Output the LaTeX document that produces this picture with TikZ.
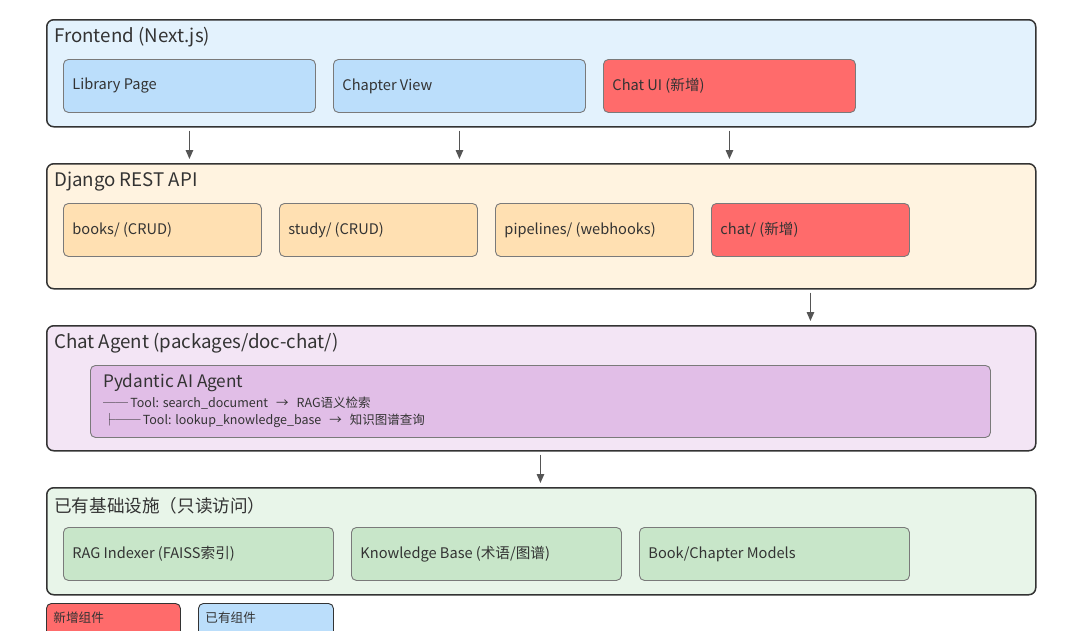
\documentclass[tikz,border=0pt]{standalone}
\usepackage{fontspec}
\setmainfont{Noto Sans CJK SC}
\usetikzlibrary{arrows.meta}
\definecolor{txt}{HTML}{333333}
\definecolor{outerline}{HTML}{333333}
\definecolor{innerline}{HTML}{7A7A7A}
\definecolor{arrowc}{HTML}{555555}
\definecolor{feBg}{HTML}{E3F2FD}
\definecolor{feBox}{HTML}{BBDEFB}
\definecolor{djBg}{HTML}{FFF3E0}
\definecolor{djBox}{HTML}{FFE0B2}
\definecolor{agBg}{HTML}{F3E5F5}
\definecolor{agBox}{HTML}{E1BEE7}
\definecolor{inBg}{HTML}{E8F5E9}
\definecolor{inBox}{HTML}{C8E6C9}
\definecolor{newRed}{HTML}{FF6B6B}
\tikzset{
  layer/.style={draw=outerline, line width=1.5pt, rounded corners=7pt, anchor=north west, inner sep=0pt},
  comp/.style={draw=innerline, line width=0.9pt, rounded corners=5pt, anchor=north west,
    minimum height=53pt, inner sep=0pt, text=txt, font=\fontsize{14.6}{17}\selectfont},
  ltitle/.style={anchor=west, inner sep=0pt, text=txt, font=\fontsize{18.7}{22}\selectfont},
  tooltext/.style={anchor=west, inner sep=0pt, text=txt, font=\fontsize{12.5}{15}\selectfont},
  arr/.style={draw=arrowc, line width=1.2pt, -{Triangle[length=9pt,width=7.5pt]}},
}
\newcommand{\comptext}[2]{\parbox[c][53pt][c]{#1}{\hspace*{9pt}#2}}
\newcommand{\legtext}[2]{\parbox[t][40pt][t]{#1}{\vspace*{8pt}\hspace*{7pt}\fontsize{12.6}{15}\selectfont #2}}
\newcommand{\arrowsep}{\hspace{8pt}→\hspace{8pt}}
\begin{document}
\begin{tikzpicture}[x=1pt,y=-1pt]
\path[use as bounding box] (0,0) rectangle (1080,630);
\fill[white] (0,0) rectangle (1080,630);
\clip (0,0) rectangle (1080,630);

% Frontend layer
\node[layer, fill=feBg, minimum width=989pt, minimum height=107pt] (front) at (46,19) {};
\node[ltitle] (frontT) at (54,37.5) {Frontend (Next.js)};
\node[comp, fill=feBox, minimum width=252pt] (lib) at (63,59) {\comptext{252pt}{Library Page}};
\node[comp, fill=feBox, minimum width=252pt] (chap) at (333,59) {\comptext{252pt}{Chapter View}};
\node[comp, fill=newRed, minimum width=252pt] (chatui) at (603,59) {\comptext{252pt}{Chat UI (新增)}};

% Django layer
\node[layer, fill=djBg, minimum width=989pt, minimum height=125pt] (django) at (46,163) {};
\node[ltitle] (djangoT) at (54,181.5) {Django REST API};
\node[comp, fill=djBox, minimum width=198pt] (books) at (63,203) {\comptext{198pt}{books/ (CRUD)}};
\node[comp, fill=djBox, minimum width=198pt] (study) at (279,203) {\comptext{198pt}{study/ (CRUD)}};
\node[comp, fill=djBox, minimum width=198pt] (pipes) at (495,203) {\comptext{198pt}{pipelines/ (webhooks)}};
\node[comp, fill=newRed, minimum width=198pt] (chatapi) at (711,203) {\comptext{198pt}{chat/ (新增)}};

% Agent layer
\node[layer, fill=agBg, minimum width=989pt, minimum height=125pt] (agent) at (46,325) {};
\node[ltitle] (agentT) at (54,343.5) {Chat Agent (packages/doc-chat/)};
\node[comp, fill=agBox, minimum width=900pt, minimum height=72pt] (pyd) at (90,365) {};
\node[anchor=west, inner sep=0pt, text=txt, font=\fontsize{17.2}{20}\selectfont] (pydT) at (103,382.5) {Pydantic AI Agent};
\node[tooltext] (tool1) at (103,403) {──\,Tool: search\_document\arrowsep RAG语义检索};
\node[tooltext] (tool2) at (103,421) {├──\,Tool: lookup\_knowledge\_base\arrowsep 知识图谱查询};

% Infrastructure layer
\node[layer, fill=inBg, minimum width=989pt, minimum height=107pt] (infra) at (46,487) {};
\node[ltitle, font=\fontsize{17.6}{21}\selectfont] (infraT) at (54,505.5) {已有基础设施（只读访问）};
\node[comp, fill=inBox, minimum width=270pt] (rag) at (63,527) {\comptext{270pt}{RAG Indexer (FAISS索引)}};
\node[comp, fill=inBox, minimum width=270pt] (kb) at (351,527) {\comptext{270pt}{Knowledge Base (术语/图谱)}};
\node[comp, fill=inBox, minimum width=270pt] (models) at (639,527) {\comptext{270pt}{Book/Chapter Models}};

% Legend
\node[comp, fill=newRed, minimum width=134pt, minimum height=40pt, draw=outerline] (legNew) at (46,603) {\legtext{134pt}{新增组件}};
\node[comp, fill=feBox, minimum width=135pt, minimum height=40pt, draw=outerline] (legOld) at (198,603) {\legtext{135pt}{已有组件}};

% Arrows
\draw[arr] ([yshift=-3pt]front.south -| lib.center) -- ([yshift=4pt]django.north -| lib.center);
\draw[arr] ([yshift=-3pt]front.south -| chap.center) -- ([yshift=4pt]django.north -| chap.center);
\draw[arr] ([yshift=-3pt]front.south -| chatui.center) -- ([yshift=4pt]django.north -| chatui.center);
\draw[arr] ([yshift=-3pt]django.south -| chatapi.center) -- ([yshift=4pt]agent.north -| chatapi.center);
\draw[arr] ([yshift=-3pt]agent.south -| pyd.center) -- ([yshift=4pt]infra.north -| pyd.center);
\end{tikzpicture}
\end{document}
